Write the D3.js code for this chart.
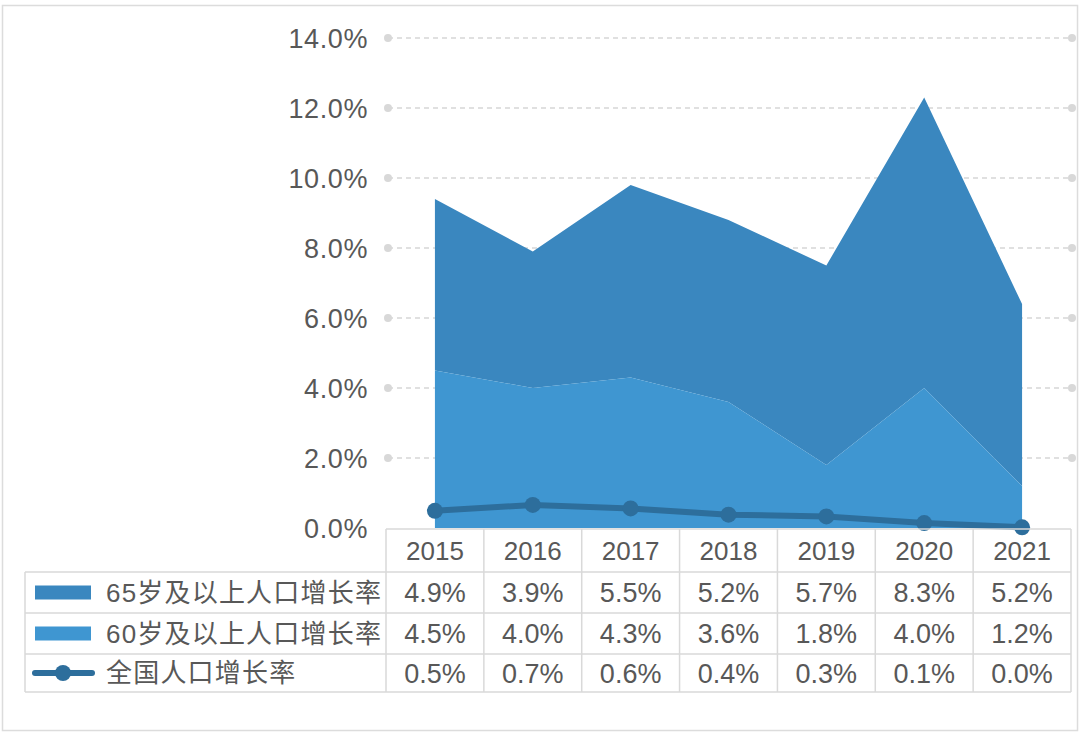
<!DOCTYPE html>
<html><head><meta charset="utf-8">
<script src="https://cdn.jsdelivr.net/npm/d3@7/dist/d3.min.js"></script>
<style>
html,body{margin:0;padding:0;background:#fff;}
svg{display:block;}
text{font-family:"Liberation Sans","Noto Sans CJK SC",sans-serif;fill:#585858;}
</style></head>
<body>
<script>
const years = ["2015","2016","2017","2018","2019","2020","2021"];
const rate65 = [4.9, 3.9, 5.5, 5.2, 5.7, 8.3, 5.2];
const rate60 = [4.5, 4.0, 4.3, 3.6, 1.8, 4.0, 1.2];
const rateAll = [0.49, 0.66, 0.56, 0.38, 0.33, 0.14, 0.02];
const seriesNames = ["65岁及以上人口增长率", "60岁及以上人口增长率", "全国人口增长率"];
const yTicks = [0, 2, 4, 6, 8, 10, 12, 14];
const colors = { c65: "#3a87bf", c60: "#3f96d1", line: "#2d6e9c" };

const W = 1080, H = 737, FS = 27;
const svg = d3.select("body").append("svg").attr("width", W).attr("height", H);

// outer frame
svg.append("rect").attr("x", 2.5).attr("y", 5.5).attr("width", 1075).attr("height", 725)
  .attr("fill", "none").attr("stroke", "#dcdcdc").attr("stroke-width", 1.5);

const tableLeft = 386, tableRight = 1071, legendLeft = 25;
const x = d3.scaleBand().domain(years).range([tableLeft, tableRight]);
const cx = d => x(d) + x.bandwidth() / 2;
const y = d3.scaleLinear().domain([0, 14]).range([528, 38]);

// grid
const grid = svg.append("g");
yTicks.forEach(t => {
  if (t > 0) {
    grid.append("line").attr("x1", 388).attr("x2", 1072).attr("y1", y(t)).attr("y2", y(t))
      .attr("stroke", "#d6d6d6").attr("stroke-width", 1.5).attr("stroke-dasharray", "5,4");
    grid.append("circle").attr("cx", 388).attr("cy", y(t)).attr("r", 4).attr("fill", "#d8d8d8");
    grid.append("circle").attr("cx", 1072).attr("cy", y(t)).attr("r", 4).attr("fill", "#d8d8d8");
  }
});

// y axis labels
const yAxis = d3.axisLeft(y).tickValues(yTicks).tickFormat(d => d.toFixed(1) + "%").tickSize(0).tickPadding(0);
const ya = svg.append("g").attr("transform", "translate(368,0)").call(yAxis);
ya.select(".domain").remove();
ya.selectAll("text").attr("font-size", FS).attr("fill", "#585858").attr("letter-spacing", 0.6)
  .style("font-family", '"Liberation Sans",sans-serif').attr("dy", "0.35em");

// stacked areas
const rows = years.map((yr, i) => ({ year: yr, r60: rate60[i], r65: rate65[i] }));
const stack = d3.stack().keys(["r60", "r65"])(rows);
const area = d3.area().x(d => cx(d.data.year)).y0(d => y(d[0])).y1(d => y(d[1]));
svg.append("path").datum(stack[1]).attr("d", area).attr("fill", colors.c65);
svg.append("path").datum(stack[0]).attr("d", area).attr("fill", colors.c60);

// line
const lineGen = d3.line().x((d, i) => cx(years[i])).y(d => y(d));
svg.append("path").datum(rateAll).attr("d", lineGen).attr("fill", "none")
  .attr("stroke", colors.line).attr("stroke-width", 6);
svg.selectAll("circle.pt").data(rateAll).enter().append("circle").attr("class", "pt")
  .attr("cx", (d, i) => cx(years[i])).attr("cy", d => y(d)).attr("r", 8).attr("fill", colors.line);

// data table
const rowTops = [529, 572, 613, 654, 692];
const tg = svg.append("g");
const lineC = "#d9d9d9";
rowTops.forEach((ry, i) => {
  tg.append("line").attr("x1", i === 0 ? tableLeft : legendLeft).attr("x2", tableRight)
    .attr("y1", ry).attr("y2", ry).attr("stroke", lineC).attr("stroke-width", 1.5);
});
years.forEach((yr) => {
  tg.append("line").attr("x1", x(yr)).attr("x2", x(yr)).attr("y1", rowTops[0]).attr("y2", rowTops[4])
    .attr("stroke", lineC).attr("stroke-width", 1.5);
});
tg.append("line").attr("x1", tableRight).attr("x2", tableRight).attr("y1", rowTops[0]).attr("y2", rowTops[4])
  .attr("stroke", lineC).attr("stroke-width", 1.5);
tg.append("line").attr("x1", legendLeft).attr("x2", legendLeft).attr("y1", rowTops[1]).attr("y2", rowTops[4])
  .attr("stroke", lineC).attr("stroke-width", 1.5);

years.forEach(yr => {
  tg.append("text").attr("x", cx(yr)).attr("y", (rowTops[0] + rowTops[1]) / 2).attr("dy", "0.36em")
    .attr("text-anchor", "middle").attr("font-size", 26).text(yr);
});
const fmt = v => v.toFixed(1) + "%";
const tableData = [rate65, rate60, rateAll];
tableData.forEach((vals, r) => {
  const my = (rowTops[r + 1] + rowTops[r + 2]) / 2;
  vals.forEach((v, i) => {
    tg.append("text").attr("x", cx(years[i])).attr("y", my).attr("dy", "0.36em")
      .attr("text-anchor", "middle").attr("font-size", FS).text(fmt(v));
  });
  if (r < 2) {
    tg.append("rect").attr("x", 35).attr("y", my - 7).attr("width", 56).attr("height", 14)
      .attr("fill", r === 0 ? colors.c65 : colors.c60);
  } else {
    tg.append("line").attr("x1", 35).attr("x2", 92).attr("y1", my).attr("y2", my)
      .attr("stroke", colors.line).attr("stroke-width", 6).attr("stroke-linecap", "round");
    tg.append("circle").attr("cx", 63).attr("cy", my).attr("r", 8).attr("fill", colors.line);
  }
  tg.append("text").attr("x", 106).attr("y", my).attr("dy", "0.36em").attr("font-size", 26)
    .attr("letter-spacing", 1.2).text(seriesNames[r]);
});
</script>
</body></html>
